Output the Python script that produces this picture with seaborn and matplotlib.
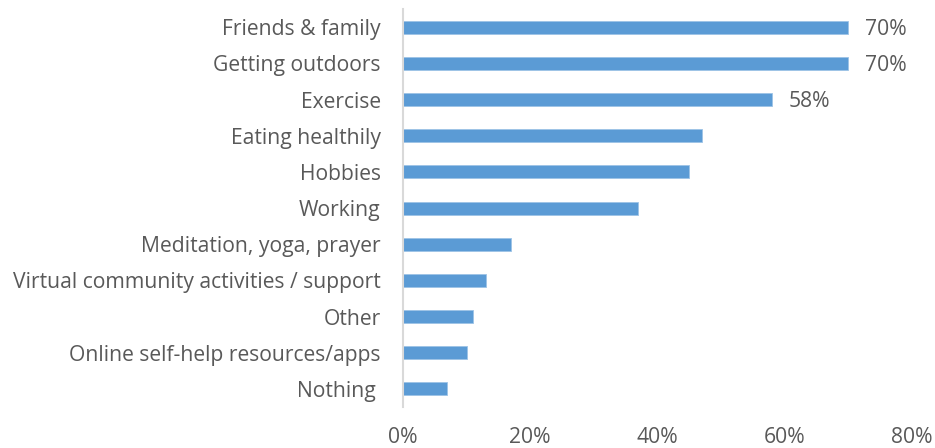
import matplotlib
matplotlib.use("Agg")
import matplotlib.pyplot as plt
import seaborn as sns
import pandas as pd

categories = [
    "Friends & family",
    "Getting outdoors",
    "Exercise",
    "Eating healthily",
    "Hobbies",
    "Working",
    "Meditation, yoga, prayer",
    "Virtual community activities / support",
    "Other",
    "Online self-help resources/apps",
    "Nothing ",
]
values = [70, 70, 58, 47, 45, 37, 17, 13, 11, 10, 7]
labelled = ["70%", "70%", "58%"]
x_ticks = [0, 20, 40, 60, 80]
x_tick_labels = ["0%", "20%", "40%", "60%", "80%"]

df = pd.DataFrame({"category": categories, "value": values})

sns.set_theme(style="white")
plt.rcParams["font.family"] = ["Open Sans", "DejaVu Sans"]
text_color = "#595959"
fs = 15.2

fig = plt.figure(figsize=(9.35, 4.48), dpi=100)
ax = fig.add_axes([0.431, 0.0915, 0.544, 0.888])

sns.barplot(data=df, x="value", y="category", orient="h", color="#5B9BD5",
            width=0.36, saturation=1, edgecolor="#9DC3E6", linewidth=0.6, ax=ax)

ax.set_xlim(0, 80)
ax.set_ylim(len(categories) - 0.5, -0.5)
ax.set_xticks(x_ticks)
ax.set_xticklabels(x_tick_labels)
ax.set_xlabel("")
ax.set_ylabel("")

for spine in ["top", "right", "bottom"]:
    ax.spines[spine].set_visible(False)
ax.spines["left"].set_color("#D9D9D9")
ax.spines["left"].set_linewidth(1.5)

ax.tick_params(axis="x", length=0, pad=14.5, labelsize=fs, labelcolor=text_color)
ax.tick_params(axis="y", length=0, pad=16, labelsize=fs, labelcolor=text_color)

for i, lab in enumerate(labelled):
    ax.text(values[i] + 2.6, i + 0.05, lab, va="center", ha="left",
            fontsize=fs, color=text_color)

fig.savefig("out.png", dpi=100)
